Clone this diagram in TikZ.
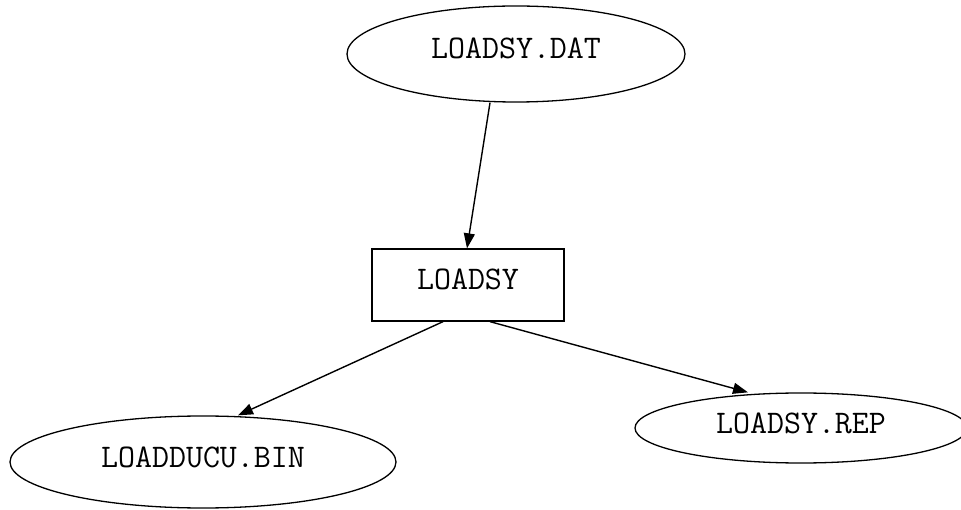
\documentclass[tikz,border=0pt]{standalone}
\usepackage{fontspec}
\usetikzlibrary{shapes.geometric,arrows.meta}
\begin{document}
\begin{tikzpicture}[x=1pt,y=-1pt,
  every node/.style={inner sep=0pt,font=\ttfamily\fontsize{33}{33}\selectfont,text height=20pt,text depth=10pt},
  filebox/.style={draw,ellipse,line width=1.3pt},
  progbox/.style={draw,rectangle,line width=1.3pt},
  link/.style={line width=1.4pt,-{Triangle[length=15pt,width=11pt]}}]
\useasboundingbox (0,0) rectangle (961,510);
\node[filebox,minimum width=338pt,minimum height=96pt] (dat) at (516,54) {LOADSY.DAT};
\node[progbox,minimum width=192pt,minimum height=72pt] (sy) at (468,285) {LOADSY};
\node[filebox,minimum width=386pt,minimum height=92pt] (bin) at (203,462) {LOADDUCU.BIN};
\node[filebox,minimum width=332pt,minimum height=70pt] (rep) at (801,428) {LOADSY.REP};
\draw[link] ([xshift=-26pt]dat.south) -- ([xshift=-1pt]sy.north);
\draw[link] ([xshift=-25pt]sy.south) -- ([xshift=35pt]bin.north);
\draw[link] ([xshift=22pt]sy.south) -- ([xshift=-53pt]rep.north);
\end{tikzpicture}
\end{document}
